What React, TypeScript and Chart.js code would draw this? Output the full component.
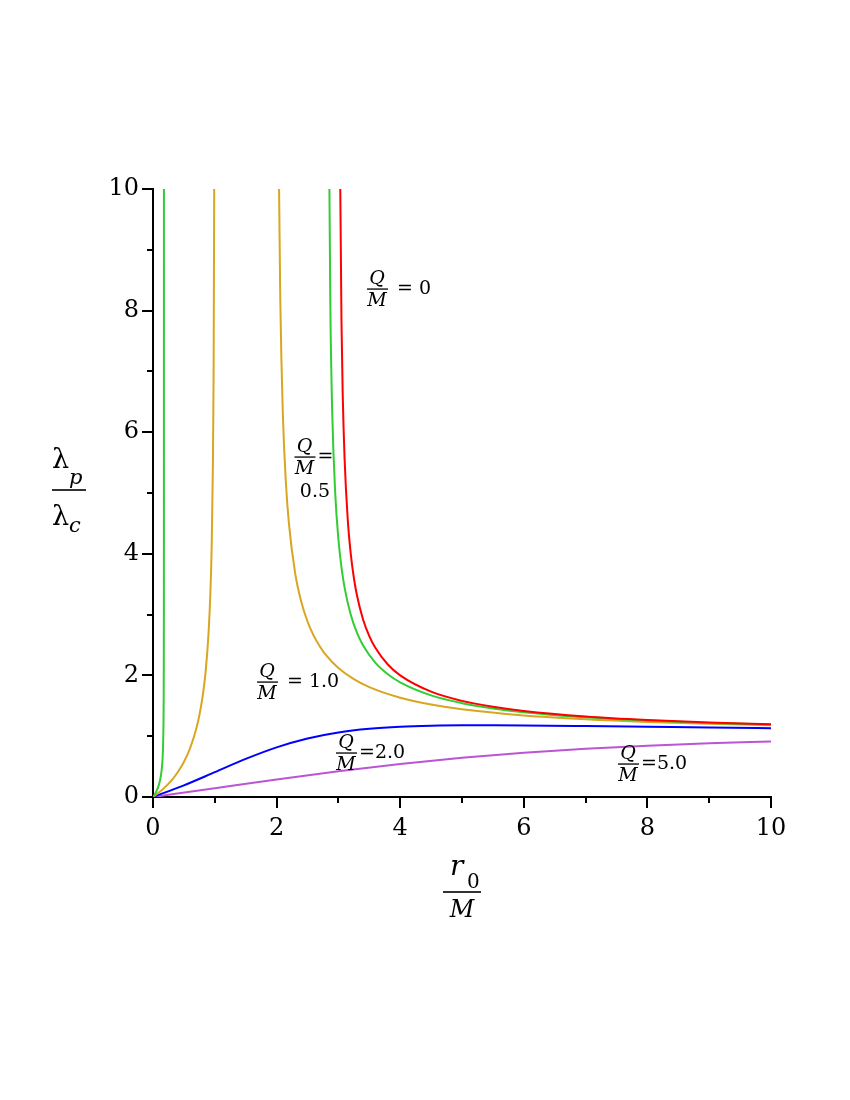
import React, { useEffect, useRef } from 'react';
import { Chart, registerables } from 'chart.js';

Chart.register(...registerables);

const FONT = '"DejaVu Serif", "Liberation Serif", serif';

// Axis ticks
const xMajorTicks = [0, 2, 4, 6, 8, 10];
const yMajorTicks = [0, 2, 4, 6, 8, 10];
const minorTicks = [1, 3, 5, 7, 9];

// Q/M = 0 (red)
const redR = [3.02, 3.03, 3.05, 3.07, 3.1, 3.15, 3.2, 3.25, 3.3, 3.4, 3.5, 3.6, 3.8, 4, 4.5, 5, 5.5, 6, 7, 8, 9, 10];
const redY = [12.29, 10.05, 7.81, 6.62, 5.57, 4.583, 4.0, 3.606, 3.317, 2.915, 2.646, 2.449, 2.179, 2.0, 1.732, 1.581, 1.483, 1.414, 1.323, 1.265, 1.225, 1.195];

// Q/M = 0.5 (green), two branches
const greenLeftR = [0, 0.02, 0.05, 0.08, 0.1, 0.12, 0.14, 0.15, 0.16, 0.17, 0.173, 0.175, 0.176, 0.1765, 0.1768, 0.177, 0.1771];
const greenLeftY = [0, 0.030, 0.084, 0.155, 0.218, 0.305, 0.444, 0.557, 0.749, 1.237, 1.655, 2.334, 3.226, 4.342, 6.035, 9.76, 22.0];
const greenRightR = [2.83, 2.84, 2.85, 2.87, 2.9, 2.95, 3.0, 3.05, 3.1, 3.2, 3.3, 3.4, 3.6, 3.8, 4, 4.5, 5, 5.5, 6, 7, 8, 9, 10];
const greenRightY = [20.6, 13.3, 10.58, 8.056, 6.328, 4.969, 4.243, 3.776, 3.444, 2.997, 2.703, 2.493, 2.207, 2.020, 1.886, 1.671, 1.543, 1.457, 1.395, 1.311, 1.257, 1.219, 1.191];

// Q/M = 1.0 (goldenrod), two branches
const orangeLeftR = [0, 0.1, 0.2, 0.3, 0.4, 0.5, 0.6, 0.7, 0.75, 0.8, 0.85, 0.9, 0.93, 0.95, 0.97, 0.98, 0.99, 0.995];
const orangeLeftY = [0, 0.0765, 0.167, 0.275, 0.408, 0.577, 0.802, 1.121, 1.342, 1.633, 2.047, 2.714, 3.398, 4.146, 5.518, 6.861, 9.851, 14.04];
const orangeRightR = [2.005, 2.01, 2.02, 2.04, 2.06, 2.1, 2.15, 2.2, 2.3, 2.4, 2.5, 2.6, 2.7, 2.8, 3, 3.25, 3.5, 4, 4.5, 5, 6, 7, 8, 9, 10];
const orangeRightY = [28.3, 20.0, 14.14, 10.0, 8.168, 6.332, 5.177, 4.491, 3.683, 3.207, 2.887, 2.654, 2.475, 2.333, 2.121, 1.938, 1.807, 1.633, 1.521, 1.443, 1.342, 1.278, 1.234, 1.203, 1.179];

// Q/M = 2.0 (blue)
const blueR = [0, 0.5, 1, 1.5, 2, 2.5, 3, 3.5, 4, 4.5, 5, 5.5, 6, 7, 8, 9, 10];
const blueY = [0, 0.192, 0.408, 0.626, 0.816, 0.962, 1.061, 1.121, 1.155, 1.172, 1.179, 1.179, 1.177, 1.167, 1.155, 1.143, 1.132];

// Q/M = 5.0 (purple)
const purpleR = [0, 1, 2, 3, 4, 5, 6, 7, 8, 9, 10];
const purpleY = [0, 0.144, 0.289, 0.424, 0.544, 0.645, 0.728, 0.793, 0.843, 0.883, 0.913];

const RED = '#ff0000';
const GREEN = '#32cd32';
const ORANGE = '#daa520';
const BLUE = '#0000ff';
const PURPLE = '#ba55d3';

const pts = (r: number[], y: number[]) => r.map((x, i) => ({ x, y: y[i] }));

const series = [
  { r: redR, y: redY, color: RED },
  { r: greenLeftR, y: greenLeftY, color: GREEN },
  { r: greenRightR, y: greenRightY, color: GREEN },
  { r: orangeLeftR, y: orangeLeftY, color: ORANGE },
  { r: orangeRightR, y: orangeRightY, color: ORANGE },
  { r: blueR, y: blueY, color: BLUE },
  { r: purpleR, y: purpleY, color: PURPLE },
];

// curve label anchors (data coords of fraction bar centre) and the text after the fraction
const curveLabels = [
  { r: 3.625, v: 8.355, after: '= 0', dx: 20 },
  { r: 2.451, v: 5.592, after: '=', dx: 13 },
  { r: 1.845, v: 1.891, after: '= 1.0', dx: 20 },
  { r: 3.123, v: 0.724, after: '=2.0', dx: 13 },
  { r: 7.686, v: 0.543, after: '=5.0', dx: 13 },
];
const extraLabel = { r: 2.621, v: 4.934, text: '0.5' };

const annotationPlugin = {
  id: 'annotations',
  afterDraw(chart: any) {
    const { ctx, chartArea } = chart;
    const xs = chart.scales.x;
    const ys = chart.scales.y;
    ctx.save();
    ctx.fillStyle = '#000';
    ctx.strokeStyle = '#000';

    // minor ticks
    ctx.lineWidth = 2;
    ctx.beginPath();
    for (const v of minorTicks) {
      const px = Math.round(xs.getPixelForValue(v));
      ctx.moveTo(px, chartArea.bottom);
      ctx.lineTo(px, chartArea.bottom + 6);
      const py = Math.round(ys.getPixelForValue(v));
      ctx.moveTo(chartArea.left, py);
      ctx.lineTo(chartArea.left - 6, py);
    }
    ctx.stroke();

    // curve labels
    const s = 19;
    for (const L of curveLabels) {
      const cx = xs.getPixelForValue(L.r);
      const by = ys.getPixelForValue(L.v);
      ctx.font = `italic ${s}px ${FONT}`;
      ctx.textAlign = 'center';
      ctx.textBaseline = 'alphabetic';
      ctx.fillText('Q', cx, by - 5);
      ctx.fillText('M', cx, by + 17);
      ctx.fillRect(cx - 10, by - 0.6, 21, 1.3);
      ctx.font = `${s}px ${FONT}`;
      ctx.textAlign = 'left';
      ctx.fillText(L.after, cx + L.dx, by + 5);
    }
    {
      ctx.font = `${s}px ${FONT}`;
      ctx.textAlign = 'center';
      ctx.fillText(extraLabel.text, xs.getPixelForValue(extraLabel.r), ys.getPixelForValue(extraLabel.v));
    }

    // y axis title: lambda_p / lambda_c
    const yBar = (chartArea.top + chartArea.bottom) / 2 - 3;
    const yl = 52;
    ctx.textAlign = 'left';
    ctx.font = `27px ${FONT}`;
    ctx.fillText('λ', yl, yBar - 22);
    ctx.fillText('λ', yl, yBar + 35);
    ctx.font = `italic 21px ${FONT}`;
    ctx.fillText('p', yl + 17, yBar - 6);
    ctx.fillText('c', yl + 17, yBar + 42);
    ctx.fillRect(yl, yBar - 0.8, 34, 1.6);

    // x axis title: r_0 / M
    const xc = (chartArea.left + chartArea.right) / 2;
    const xBar = chartArea.bottom + 95;
    ctx.font = `italic 28px ${FONT}`;
    ctx.fillText('r', xc - 12, xBar - 17);
    ctx.font = `20px ${FONT}`;
    ctx.fillText('0', xc + 5, xBar - 4);
    ctx.font = `italic 24px ${FONT}`;
    ctx.textAlign = 'center';
    ctx.fillText('M', xc, xBar + 25);
    ctx.fillRect(xc - 19, xBar - 0.8, 38, 1.6);

    ctx.restore();
  },
};

export default function App() {
  const ref = useRef<HTMLCanvasElement>(null);
  useEffect(() => {
    const canvas = ref.current;
    if (!canvas) return;
    const chart = new Chart(canvas, {
      type: 'line',
      data: {
        datasets: series.map((s) => ({
          data: pts(s.r, s.y),
          borderColor: s.color,
          backgroundColor: s.color,
          borderWidth: 2,
          pointRadius: 0,
          fill: false,
          cubicInterpolationMode: 'monotone' as const,
        })),
      },
      options: {
        animation: false,
        responsive: false,
        maintainAspectRatio: false,
        layout: { padding: { top: 189, right: 79, left: 0, bottom: 0 } },
        plugins: { legend: { display: false }, tooltip: { enabled: false } },
        scales: {
          x: {
            type: 'linear',
            min: 0,
            max: 10,
            afterFit: (sc: any) => { sc.height = 303; },
            afterBuildTicks: (sc: any) => { sc.ticks = xMajorTicks.map((v) => ({ value: v })); },
            ticks: { font: { family: FONT, size: 24 }, color: '#000', padding: 6, maxRotation: 0, autoSkip: false },
            grid: { drawOnChartArea: false, drawTicks: true, tickLength: 11, color: '#000', lineWidth: 2 },
            border: { display: true, color: '#000', width: 2 },
          },
          y: {
            type: 'linear',
            min: 0,
            max: 10,
            afterFit: (sc: any) => { sc.width = 153; },
            afterBuildTicks: (sc: any) => { sc.ticks = yMajorTicks.map((v) => ({ value: v })); },
            ticks: { font: { family: FONT, size: 24 }, color: '#000', padding: 3, autoSkip: false },
            grid: { drawOnChartArea: false, drawTicks: true, tickLength: 11, color: '#000', lineWidth: 2 },
            border: { display: true, color: '#000', width: 2 },
          },
        },
      } as any,
      plugins: [annotationPlugin],
    });
    return () => chart.destroy();
  }, []);
  return (
    <div style={{ position: 'absolute', left: 0, top: 0, width: 850, height: 1100, background: '#fff' }}>
      <canvas ref={ref} width={850} height={1100} style={{ display: 'block', width: 850, height: 1100 }} />
    </div>
  );
}
